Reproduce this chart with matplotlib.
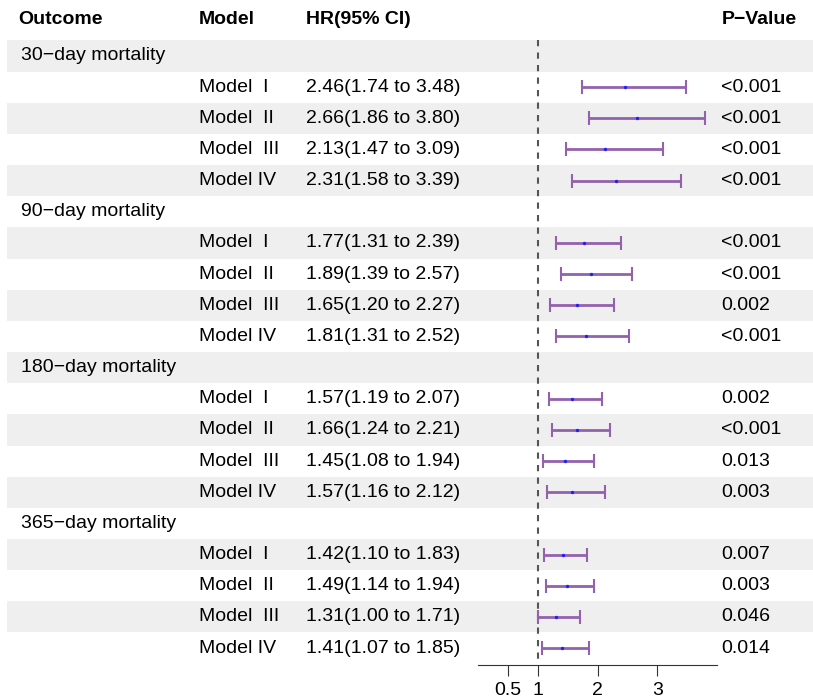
import numpy as np
import matplotlib
matplotlib.use("Agg")
import matplotlib.pyplot as plt

plt.rcParams['font.family'] = ['Liberation Sans', 'DejaVu Sans']

# forest plot data
outcomes = ["30\u2212day mortality", "90\u2212day mortality",
            "180\u2212day mortality", "365\u2212day mortality"]
models = ["Model  I", "Model  II", "Model  III", "Model IV"]

hr = [2.46, 2.66, 2.13, 2.31,
      1.77, 1.89, 1.65, 1.81,
      1.57, 1.66, 1.45, 1.57,
      1.42, 1.49, 1.31, 1.41]
lo = [1.74, 1.86, 1.47, 1.58,
      1.31, 1.39, 1.20, 1.31,
      1.19, 1.24, 1.08, 1.16,
      1.10, 1.14, 1.00, 1.07]
hi = [3.48, 3.80, 3.09, 3.39,
      2.39, 2.57, 2.27, 2.52,
      2.07, 2.21, 1.94, 2.12,
      1.83, 1.94, 1.71, 1.85]
pvals = ["<0.001", "<0.001", "<0.001", "<0.001",
         "<0.001", "<0.001", "0.002", "<0.001",
         "0.002", "<0.001", "0.013", "0.003",
         "0.007", "0.003", "0.046", "0.014"]
xticks = [0.5, 1, 2, 3]

# row layout: outcome header row followed by 4 model rows
W, H = 813, 700
row0, step = 56, 31.16
ytop = -row0 / step
ybot = (H - row0) / step
fs = 14

fig = plt.figure(figsize=(W / 100, H / 100), dpi=100)
ax = fig.add_axes([0, 0, 1, 1])
ax.set_xlim(0, W)
ax.set_ylim(ybot, ytop)
ax.axis("off")

nrows = len(outcomes) * (len(models) + 1)
for r in range(0, nrows, 2):
    ax.axhspan(r - 0.5, r + 0.5, xmin=7 / W, xmax=1, color="#efefef", lw=0, zorder=0)

hy = (20 - row0) / step
ax.text(18, hy, "Outcome", fontsize=fs, fontweight="bold", va="center")
ax.text(199, hy, "Model", fontsize=fs, fontweight="bold", va="center")
ax.text(306, hy, "HR(95% CI)", fontsize=fs, fontweight="bold", va="center")
ax.text(722, hy, "P\u2212Value", fontsize=fs, fontweight="bold", va="center")

ci_rows = []
k = 0
r = 0
for o in outcomes:
    ax.text(21, r, o, fontsize=fs, va="center")
    r += 1
    for m in models:
        ax.text(199, r, m, fontsize=fs, va="center")
        ax.text(306, r, f"{hr[k]:.2f}({lo[k]:.2f} to {hi[k]:.2f})", fontsize=fs, va="center")
        ax.text(721, r, pvals[k], fontsize=fs, va="center")
        ci_rows.append(r)
        k += 1
        r += 1

# forest panel
fx0, fx1 = 478, 717
fa = fig.add_axes([fx0 / W, 0, (fx1 - fx0) / W, 1])
fa.patch.set_alpha(0)
fa.set_xlim(0, 4)
fa.set_ylim(ybot, ytop)
for s in ["top", "right", "left"]:
    fa.spines[s].set_visible(False)
axis_y = (665 - row0) / step
fa.spines["bottom"].set_position(("data", axis_y))
fa.spines["bottom"].set_color("#333333")
fa.spines["bottom"].set_linewidth(0.8)
fa.set_yticks([])
fa.set_xticks(xticks)
fa.set_xticklabels([f"{t:g}" for t in xticks], fontsize=fs)
fa.tick_params(axis="x", length=8, width=0.8, color="#333333", pad=4)

fa.vlines(1, -0.5, axis_y, colors="#555555", linestyles=(0, (3, 3)), lw=1.5)

ys = np.array(ci_rows)
fa.errorbar(hr, ys, xerr=[np.array(hr) - np.array(lo), np.array(hi) - np.array(hr)],
            fmt="none", ecolor="#9461ad", elinewidth=2.0, capsize=5, capthick=1.5)
fa.scatter(hr, ys, s=6, color="#1f1fff", zorder=3, lw=0)

fig.savefig("out.png", dpi=100)
